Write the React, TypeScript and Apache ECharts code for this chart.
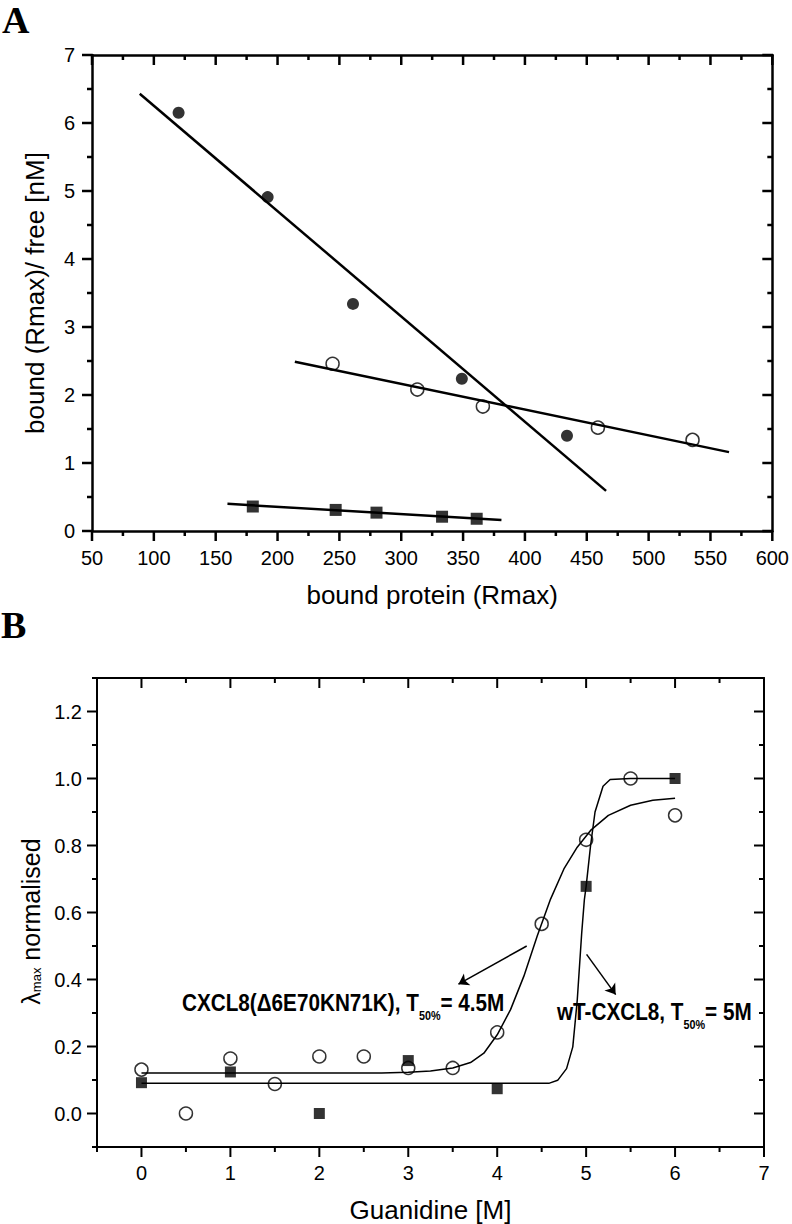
import React, { useEffect, useRef } from 'react';
import * as echarts from 'echarts';

const FONT = '"Liberation Sans", Arial, Helvetica, sans-serif';
const SERIF = '"Liberation Serif", "Times New Roman", serif';

// ---------- Panel A data ----------
const aFilledX = [120, 192, 261, 349, 434];
const aFilledY = [6.15, 4.91, 3.34, 2.24, 1.4];
const aOpenX = [244.5, 313, 366, 459, 535.5];
const aOpenY = [2.46, 2.08, 1.83, 1.52, 1.34];
const aSquareX = [180, 247, 280, 333, 361];
const aSquareY = [0.36, 0.31, 0.27, 0.21, 0.18];
const aFilledFitX = [88.6, 465.6];
const aFilledFitY = [6.43, 0.59];
const aOpenFitX = [214, 565];
const aOpenFitY = [2.49, 1.16];
const aSquareFitX = [159.5, 381];
const aSquareFitY = [0.4, 0.16];

// ---------- Panel B data ----------
const bOpenX = [0, 0.5, 1, 1.5, 2, 2.5, 3, 3.5, 4, 4.5, 5, 5.5, 6];
const bOpenY = [0.131, 0.0, 0.164, 0.088, 0.17, 0.17, 0.136, 0.136, 0.242, 0.566, 0.817, 1.0, 0.89];
const bSquareX = [0, 1, 2, 3, 4, 5, 6];
const bSquareY = [0.092, 0.124, 0.0, 0.158, 0.074, 0.678, 1.0];
const bMutFitX = [0, 2.7, 3.0, 3.25, 3.5, 3.7, 3.85, 4.0, 4.15, 4.3, 4.45, 4.6, 4.75, 4.9, 5.05, 5.25, 5.5, 5.75, 6.0];
const bMutFitY = [0.121, 0.121, 0.123, 0.127, 0.136, 0.152, 0.18, 0.235, 0.31, 0.41, 0.53, 0.64, 0.73, 0.795, 0.845, 0.89, 0.92, 0.935, 0.941];
const bWtFitX = [0, 4.58, 4.68, 4.78, 4.85, 4.9, 4.95, 4.98, 5.0, 5.05, 5.1, 5.19, 5.27, 5.5, 6.0];
const bWtFitY = [0.09, 0.09, 0.099, 0.134, 0.199, 0.338, 0.538, 0.638, 0.678, 0.8, 0.9, 0.977, 0.997, 1.0, 1.0];
const bArrowMut = [[4.332, 0.5], [3.564, 0.386]];
const bArrowWt = [[5.005, 0.475], [5.332, 0.355]];

// ---------- Tick values ----------
const aXMajor = [50, 100, 150, 200, 250, 300, 350, 400, 450, 500, 550, 600];
const aXMinor = [75, 125, 175, 225, 275, 325, 375, 425, 475, 525, 575];
const aYMajor = [0, 1, 2, 3, 4, 5, 6, 7];
const aYMinor = [0.5, 1.5, 2.5, 3.5, 4.5, 5.5, 6.5];
const bXMajor = [0, 1, 2, 3, 4, 5, 6, 7];
const bXMinor = [-0.5, 0.5, 1.5, 2.5, 3.5, 4.5, 5.5, 6.5];
const bYMajor = [0, 0.2, 0.4, 0.6, 0.8, 1.0, 1.2];
const bYMinor = [-0.1, 0.1, 0.3, 0.5, 0.7, 0.9, 1.1, 1.3];

const zip = (xs: number[], ys: number[]) => xs.map((x, i) => [x, ys[i]]);

const BLACK = '#000';

function buildOption() {
  const lineA = { show: true, onZero: false, lineStyle: { color: BLACK, width: 2.5 } };
  const lineB = { show: true, onZero: false, lineStyle: { color: BLACK, width: 2 } };
  const noTick = { show: false };
  const labelStyle = { fontSize: 20, color: BLACK, fontFamily: FONT };
  const nameStyle = { fontSize: 26, color: BLACK, fontFamily: FONT };

  const xAxis: any[] = [
    {
      gridIndex: 0, type: 'value', position: 'bottom', min: 50, max: 600, interval: 50,
      axisLine: lineA, axisTick: noTick,
      axisLabel: { show: true, margin: 17, ...labelStyle },
      splitLine: { show: false },
      name: 'bound protein (Rmax)', nameLocation: 'middle', nameGap: 51, nameTextStyle: nameStyle,
    },
    {
      gridIndex: 0, type: 'value', position: 'top', min: 50, max: 600, interval: 50,
      axisLine: lineA, axisTick: noTick, axisLabel: { show: false }, splitLine: { show: false },
    },
    {
      gridIndex: 1, type: 'value', position: 'bottom', min: -0.5, max: 7,
      axisLine: lineB, axisTick: noTick,
      axisLabel: { show: true, margin: 16, ...labelStyle, customValues: bXMajor, formatter: (v: number) => String(v) },
      splitLine: { show: false },
      name: 'Guanidine [M]', nameLocation: 'middle', nameGap: 50, nameTextStyle: nameStyle,
    },
    {
      gridIndex: 1, type: 'value', position: 'top', min: -0.5, max: 7,
      axisLine: lineB, axisTick: noTick, axisLabel: { show: false }, splitLine: { show: false },
    },
  ];

  const yAxis: any[] = [
    {
      gridIndex: 0, type: 'value', position: 'left', min: 0, max: 7, interval: 1,
      axisLine: lineA, axisTick: noTick,
      axisLabel: { show: true, margin: 17, ...labelStyle },
      splitLine: { show: false },
      name: 'bound (Rmax)/ free [nM]', nameLocation: 'middle', nameRotate: 90, nameGap: 44, nameTextStyle: nameStyle,
    },
    {
      gridIndex: 0, type: 'value', position: 'right', min: 0, max: 7, interval: 1,
      axisLine: lineA, axisTick: noTick, axisLabel: { show: false }, splitLine: { show: false },
    },
    {
      gridIndex: 1, type: 'value', position: 'left', min: -0.1, max: 1.3,
      axisLine: lineB, axisTick: noTick,
      axisLabel: { show: true, margin: 15, ...labelStyle, customValues: bYMajor, formatter: (v: number) => v.toFixed(1) },
      splitLine: { show: false },
      name: '{t|λ}{s|max}{t| normalised}', nameLocation: 'middle', nameRotate: 90, nameGap: 50,
      nameTextStyle: {
        fontFamily: FONT, color: BLACK, padding: [0, 18, 0, 0],
        rich: {
          t: { fontSize: 25, fontFamily: FONT, color: BLACK, lineHeight: 25, verticalAlign: 'top' },
          s: { fontSize: 13, fontFamily: FONT, color: BLACK, lineHeight: 25, verticalAlign: 'bottom' },
        },
      },
    },
    {
      gridIndex: 1, type: 'value', position: 'right', min: -0.1, max: 1.3,
      axisLine: lineB, axisTick: noTick, axisLabel: { show: false }, splitLine: { show: false },
    },
  ];

  const fitA = (xs: number[], ys: number[]) => ({
    type: 'line', xAxisIndex: 0, yAxisIndex: 0, data: zip(xs, ys), showSymbol: false, symbol: 'none',
    lineStyle: { color: BLACK, width: 2.5 }, z: 3, silent: true,
  });
  const fitB = (xs: number[], ys: number[]) => ({
    type: 'line', xAxisIndex: 2, yAxisIndex: 2, data: zip(xs, ys), showSymbol: false, symbol: 'none',
    smooth: false,
    lineStyle: { color: BLACK, width: 1.5 }, z: 3, silent: true,
  });
  const open = { color: 'rgba(0,0,0,0)', borderColor: BLACK, borderWidth: 1.5 };
  const filled = { color: BLACK };

  const series: any[] = [
    fitA(aFilledFitX, aFilledFitY),
    fitA(aOpenFitX, aOpenFitY),
    fitA(aSquareFitX, aSquareFitY),
    { type: 'scatter', xAxisIndex: 0, yAxisIndex: 0, data: zip(aFilledX, aFilledY), symbol: 'circle', symbolSize: 12, itemStyle: filled, z: 5 },
    { type: 'scatter', xAxisIndex: 0, yAxisIndex: 0, data: zip(aOpenX, aOpenY), symbol: 'circle', symbolSize: 13, itemStyle: open, z: 5 },
    { type: 'scatter', xAxisIndex: 0, yAxisIndex: 0, data: zip(aSquareX, aSquareY), symbol: 'rect', symbolSize: 12, itemStyle: filled, z: 5 },
    fitB(bMutFitX, bMutFitY),
    fitB(bWtFitX, bWtFitY),
    { type: 'scatter', xAxisIndex: 2, yAxisIndex: 2, data: zip(bOpenX, bOpenY), symbol: 'circle', symbolSize: 13, itemStyle: open, z: 5 },
    { type: 'scatter', xAxisIndex: 2, yAxisIndex: 2, data: zip(bSquareX, bSquareY), symbol: 'rect', symbolSize: 11, itemStyle: filled, z: 5 },
    {
      type: 'lines', coordinateSystem: 'cartesian2d', xAxisIndex: 2, yAxisIndex: 2,
      data: [{ coords: bArrowMut }, { coords: bArrowWt }],
      symbol: ['none', 'arrow'], symbolSize: 10,
      lineStyle: { color: BLACK, width: 1.5, opacity: 1 }, z: 4, silent: true,
    },
  ];

  return {
    animation: false,
    backgroundColor: '#fff',
    textStyle: { fontFamily: FONT },
    grid: [
      { left: 92, top: 55, width: 685, height: 476 },
      { left: 97, top: 678, width: 667, height: 470 },
    ],
    xAxis,
    yAxis,
    series,
  };
}

function baseGraphic(): any[] {
  const annRich = {
    m: { fontSize: 23, fontWeight: 'bold', fontFamily: FONT, fill: BLACK, lineHeight: 24, verticalAlign: 'top' },
    s: { fontSize: 12, fontWeight: 'bold', fontFamily: FONT, fill: BLACK, lineHeight: 30, verticalAlign: 'bottom' },
  };
  return [
    { type: 'text', x: 2, y: 19.5, style: { text: 'A', fontFamily: SERIF, fontWeight: 'bold', fontSize: 38, fill: BLACK, verticalAlign: 'middle', align: 'left' } },
    { type: 'text', x: 1, y: 624.5, style: { text: 'B', fontFamily: SERIF, fontWeight: 'bold', fontSize: 38, fill: BLACK, verticalAlign: 'middle', align: 'left' } },
    { type: 'text', x: 182, y: 992, scaleX: 0.9, z: 10, style: { text: '{m|CXCL8(Δ6E70KN71K), T}{s|50%}{m|= 4.5M}', rich: annRich, verticalAlign: 'top', align: 'left', fill: BLACK } },
    { type: 'text', x: 557, y: 1001, scaleX: 0.9, z: 10, style: { text: '{m|wT-CXCL8, T}{s|50%}{m|= 5M}', rich: annRich, verticalAlign: 'top', align: 'left', fill: BLACK } },
  ];
}

// Mirrored ticks (outward on bottom/left, inward on top/right), placed through the chart's own scales.
function tickGraphics(chart: any, gi: number, xLo: number, xHi: number, yLo: number, yHi: number,
  xMaj: number[], xMin: number[], yMaj: number[], yMin: number[], w: number): any[] {
  const conv = (x: number, y: number) => chart.convertToPixel({ gridIndex: gi }, [x, y]) as number[];
  const [left, bottom] = conv(xLo, yLo);
  const [right, top] = conv(xHi, yHi);
  const out: any[] = [];
  const rect = (x: number, y: number, ww: number, h: number) => ({
    type: 'rect', z: 20,
    shape: { x, y, width: ww, height: h },
    style: { fill: BLACK },
  });
  const vt = (v: number, len: number) => {
    const px = conv(v, yLo)[0];
    out.push(rect(px - w / 2, bottom, w, len));
    out.push(rect(px - w / 2, top, w, len));
  };
  const ht = (v: number, len: number) => {
    const py = conv(xLo, v)[1];
    out.push(rect(left - len, py - w / 2, len, w));
    out.push(rect(right - len, py - w / 2, len, w));
  };
  xMaj.forEach((v) => vt(v, 10));
  xMin.forEach((v) => vt(v, 5));
  yMaj.forEach((v) => ht(v, 10));
  yMin.forEach((v) => ht(v, 5));
  return out;
}

export default function App() {
  const ref = useRef<HTMLDivElement>(null);
  useEffect(() => {
    if (!ref.current) return;
    const chart = echarts.init(ref.current, undefined, { renderer: 'svg' });
    chart.setOption({ ...buildOption(), graphic: baseGraphic() } as any);
    const ticks = [
      ...tickGraphics(chart, 0, 50, 600, 0, 7, aXMajor, aXMinor, aYMajor, aYMinor, 2.5),
      ...tickGraphics(chart, 1, -0.5, 7, -0.1, 1.3, bXMajor, bXMinor, bYMajor, bYMinor, 2),
    ];
    chart.setOption({ graphic: [...baseGraphic(), ...ticks] } as any);
    return () => chart.dispose();
  }, []);
  return (
    <div
      ref={ref}
      style={{ position: 'fixed', left: 0, top: 0, width: 792, height: 1224, background: '#fff' }}
    />
  );
}
